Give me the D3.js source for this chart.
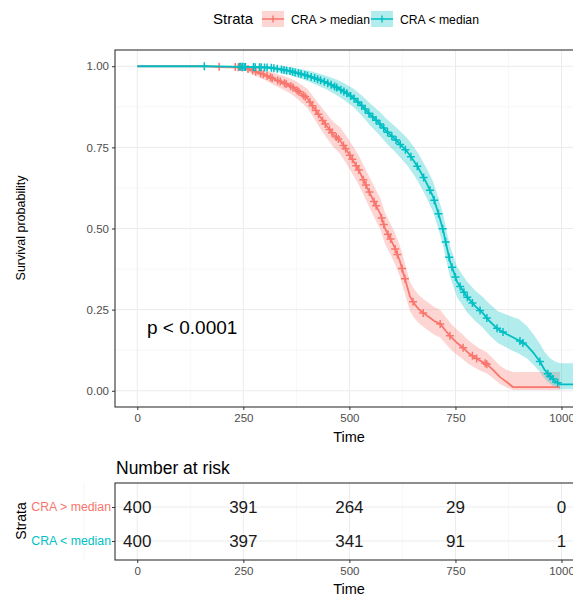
<!DOCTYPE html>
<html>
<head>
<meta charset="utf-8">
<script src="https://cdn.jsdelivr.net/npm/d3@7"></script>
<style>
  body { margin: 0; background: #fff; }
  svg { font-family: "Liberation Sans", Arial, sans-serif; }
</style>
</head>
<body>
<svg width="573" height="596"></svg>
<script>
// ---- data ----
var strata = ["CRA > median", "CRA < median"];
var timeTicks = [0, 250, 500, 750, 1000];
var survTicks = [0, 0.25, 0.5, 0.75, 1];
var survLabels = ["0.00", "0.25", "0.50", "0.75", "1.00"];

var redTime  = [0, 150, 200, 243, 266, 285, 297, 312, 325, 342, 360, 372, 384, 400, 415, 431, 447, 462, 478, 494, 509, 522, 535, 549, 561, 573, 584, 596, 607, 619, 631, 643, 652, 663, 674, 690, 700, 714, 727, 740, 754, 766, 779, 791, 805, 824, 838, 855, 870, 886, 996];
var redSurv  = [1, 1, .998, .997, .99, .98, .975, .967, .959, .95, .94, .93, .918, .902, .875, .844, .815, .79, .771, .74, .709, .68, .645, .607, .575, .545, .50, .47, .44, .40, .345, .29, .27, .252, .24, .225, .215, .206, .185, .165, .147, .135, .118, .107, .095, .082, .065, .042, .028, .011, .011];
var redLower = [1, 1, .994, .991, .98, .967, .96, .95, .94, .929, .917, .905, .891, .873, .843, .809, .778, .751, .73, .697, .665, .635, .599, .56, .527, .497, .452, .422, .392, .352, .298, .245, .226, .209, .197, .182, .173, .164, .145, .126, .11, .099, .084, .075, .064, .053, .039, .021, .011, .002, .002];
var redUpper = [1, 1, 1, 1, .999, .993, .99, .984, .978, .971, .963, .955, .945, .931, .907, .879, .852, .829, .812, .783, .753, .725, .691, .654, .623, .593, .548, .518, .488, .448, .392, .335, .314, .296, .283, .268, .258, .249, .227, .206, .188, .175, .157, .145, .132, .118, .1, .077, .065, .058, .058];
var redCensor = [193, 231, 238, 247, 261, 272, 279, 291, 297, 306, 314, 318, 331, 337, 347, 351, 362, 367, 377, 381, 392, 396, 407, 413, 421, 427, 437, 443, 453, 459, 469, 474, 486, 491, 501, 507, 516, 522, 533, 539, 547, 558, 563, 576, 581, 591, 597, 608, 613, 624, 631, 650, 674, 714, 737, 768, 790, 800, 820, 824];

var tealTime  = [0, 160, 250, 313, 340, 360, 390, 415, 445, 471, 490, 509, 530, 549, 570, 589, 612, 636, 650, 662, 680, 697, 709, 721, 730, 737, 754, 777, 797, 814, 830, 850, 870, 900, 918, 935, 949, 960, 973, 985, 996, 1050];
var tealSurv  = [1, 1, .998, .996, .99, .985, .975, .965, .95, .934, .92, .903, .878, .851, .825, .798, .77, .737, .712, .688, .645, .599, .55, .495, .44, .40, .335, .29, .26, .24, .215, .19, .175, .155, .14, .115, .09, .065, .045, .03, .02, .02];
var tealLower = [1, 1, .994, .99, .98, .973, .96, .947, .929, .91, .894, .875, .847, .817, .789, .76, .73, .695, .669, .644, .6, .552, .502, .447, .392, .352, .288, .243, .214, .195, .171, .147, .133, .114, .1, .079, .058, .038, .022, .011, .005, .005];
var tealUpper = [1, 1, 1, 1, .999, .997, .99, .983, .971, .958, .946, .931, .909, .885, .861, .836, .81, .779, .755, .732, .69, .646, .598, .543, .488, .448, .382, .337, .308, .29, .268, .245, .235, .22, .2, .172, .145, .12, .1, .09, .085, .085];
var tealCensor = [158, 241, 244, 248, 252, 255, 274, 278, 288, 292, 300, 306, 316, 322, 330, 340, 346, 352, 360, 366, 372, 380, 386, 395, 401, 410, 418, 425, 432, 441, 449, 457, 465, 470, 480, 487, 494, 503, 511, 520, 529, 537, 546, 555, 563, 572, 581, 590, 600, 610, 620, 632, 645, 660, 675, 690, 700, 710, 720, 727, 735, 742, 750, 761, 770, 778, 790, 808, 824, 848, 862, 902, 909, 949, 968, 973, 980, 991];

var riskTimes = [0, 250, 500, 750, 1000];
var riskHigh = [400, 391, 264, 29, 0];
var riskLow  = [400, 397, 341, 91, 1];

var colors = ["#F8766D", "#00BFC4"];

// ---- layout ----
var svg = d3.select("svg");
var panel = {left: 115, right: 605, top: 50, bottom: 407};
var table = {top: 483, bottom: 560};
var FONT = "Liberation Sans, Arial, sans-serif";

var x = d3.scaleLinear().domain([-52.5, 1102.5]).range([panel.left, panel.right]);
var y = d3.scaleLinear().domain([-0.05, 1.05]).range([panel.bottom, panel.top]);
var yRisk = d3.scalePoint().domain(strata).range([table.top + 24, table.bottom - 19]);

var minorT = [-125, 125, 375, 625, 875, 1125];
var minorS = [0.125, 0.375, 0.625, 0.875];

function makeSeries(t, s, lo, hi) {
  return t.map(function(d, i) { return {t: d, s: s[i], lo: lo[i], hi: hi[i]}; });
}
var groups = [
  {name: strata[0], pts: makeSeries(redTime, redSurv, redLower, redUpper), censor: redCensor, color: colors[0]},
  {name: strata[1], pts: makeSeries(tealTime, tealSurv, tealLower, tealUpper), censor: tealCensor, color: colors[1]}
];

// survival value on the drawn (linear) path at time t
function survAt(pts, t) {
  for (var i = 1; i < pts.length; i++) {
    if (pts[i].t >= t) {
      var a = pts[i - 1], b = pts[i];
      return a.s + (b.s - a.s) * (t - a.t) / (b.t - a.t);
    }
  }
  return pts[pts.length - 1].s;
}

svg.append("defs").append("clipPath").attr("id", "clipMain")
  .append("rect").attr("x", panel.left).attr("y", panel.top)
  .attr("width", panel.right - panel.left).attr("height", panel.bottom - panel.top);

// ---- main panel grid ----
var grid = svg.append("g");
grid.selectAll(".vmin").data(minorT).enter().append("line")
  .attr("x1", function(d) { return x(d); }).attr("x2", function(d) { return x(d); })
  .attr("y1", panel.top).attr("y2", panel.bottom)
  .attr("stroke", "#f2f2f2").attr("stroke-width", 0.6).attr("clip-path", "url(#clipMain)");
grid.selectAll(".hmin").data(minorS).enter().append("line")
  .attr("x1", panel.left).attr("x2", panel.right)
  .attr("y1", function(d) { return y(d); }).attr("y2", function(d) { return y(d); })
  .attr("stroke", "#f2f2f2").attr("stroke-width", 0.6);
grid.selectAll(".vmaj").data(timeTicks).enter().append("line")
  .attr("x1", function(d) { return x(d); }).attr("x2", function(d) { return x(d); })
  .attr("y1", panel.top).attr("y2", panel.bottom)
  .attr("stroke", "#ebebeb").attr("stroke-width", 1);
grid.selectAll(".hmaj").data(survTicks).enter().append("line")
  .attr("x1", panel.left).attr("x2", panel.right)
  .attr("y1", function(d) { return y(d); }).attr("y2", function(d) { return y(d); })
  .attr("stroke", "#ebebeb").attr("stroke-width", 1);

// ---- curves ----
var area = d3.area()
  .x(function(d) { return x(d.t); })
  .y0(function(d) { return y(d.lo); })
  .y1(function(d) { return y(d.hi); });
var line = d3.line()
  .x(function(d) { return x(d.t); })
  .y(function(d) { return y(d.s); });

var curves = svg.append("g").attr("clip-path", "url(#clipMain)");
groups.forEach(function(g) {
  curves.append("path").datum(g.pts).attr("d", area)
    .attr("fill", g.color).attr("fill-opacity", 0.3);
});
groups.forEach(function(g) {
  curves.append("path").datum(g.pts).attr("d", line)
    .attr("fill", "none").attr("stroke", g.color).attr("stroke-width", 1.8)
    .attr("stroke-linejoin", "round");
  curves.selectAll(null).data(g.censor).enter().append("path")
    .attr("transform", function(d) { return "translate(" + x(d) + "," + y(survAt(g.pts, d)) + ")"; })
    .attr("d", "M-4,0H4M0,-4V4")
    .attr("stroke", g.color).attr("stroke-width", 1.5);
});

// panel border
svg.append("rect").attr("x", panel.left).attr("y", panel.top)
  .attr("width", panel.right - panel.left).attr("height", panel.bottom - panel.top)
  .attr("fill", "none").attr("stroke", "#333").attr("stroke-width", 1.1);

// ---- axes ----
var yAxis = svg.append("g").attr("transform", "translate(" + panel.left + ",0)")
  .call(d3.axisLeft(y).tickValues(survTicks).tickSize(3).tickPadding(3)
    .tickFormat(function(d, i) { return survLabels[i]; }));
var xAxis = svg.append("g").attr("transform", "translate(0," + panel.bottom + ")")
  .call(d3.axisBottom(x).tickValues(timeTicks).tickSize(3).tickPadding(4).tickFormat(d3.format("d")));
[yAxis, xAxis].forEach(function(a) {
  a.select(".domain").remove();
  a.selectAll(".tick line").attr("stroke", "#333");
  a.selectAll(".tick text").attr("fill", "#4d4d4d").style("font-size", "11.5px")
    .style("font-family", FONT);
});

svg.append("text").attr("x", 349).attr("y", 442).attr("text-anchor", "middle")
  .style("font-size", "14.5px").text("Time");
svg.append("text").attr("transform", "translate(25,228) rotate(-90)")
  .attr("text-anchor", "middle").style("font-size", "12.5px").text("Survival probability");

svg.append("text").attr("x", 147).attr("y", 334)
  .style("font-size", "19px").text("p < 0.0001");

// ---- legend ----
var leg = svg.append("g");
leg.append("text").attr("x", 213).attr("y", 24).style("font-size", "15px").text("Strata");
var legX = [262, 371];
groups.forEach(function(g, i) {
  var k = leg.append("g").attr("transform", "translate(" + legX[i] + ",11)");
  k.append("rect").attr("width", 22).attr("height", 16).attr("fill", g.color).attr("fill-opacity", 0.3);
  k.append("path").attr("d", "M0,8H22M11,4.5V11.5").attr("stroke", g.color).attr("stroke-width", 1.4);
  k.append("text").attr("x", 29).attr("y", 12.5).style("font-size", "12.2px").text(g.name);
});

// ---- risk table ----
svg.append("text").attr("x", 116).attr("y", 474).style("font-size", "17.5px").text("Number at risk");

var tg = svg.append("g");
tg.selectAll(".vmin").data(minorT).enter().append("line")
  .attr("x1", function(d) { return x(d); }).attr("x2", function(d) { return x(d); })
  .attr("y1", table.top).attr("y2", table.bottom)
  .attr("stroke", "#f2f2f2").attr("stroke-width", 0.6);
tg.selectAll(".vmaj").data(timeTicks).enter().append("line")
  .attr("x1", function(d) { return x(d); }).attr("x2", function(d) { return x(d); })
  .attr("y1", table.top).attr("y2", table.bottom)
  .attr("stroke", "#ebebeb");
tg.selectAll(".hmaj").data(strata).enter().append("line")
  .attr("x1", panel.left).attr("x2", panel.right)
  .attr("y1", function(d) { return yRisk(d); }).attr("y2", function(d) { return yRisk(d); })
  .attr("stroke", "#ebebeb");

var riskRows = [riskHigh, riskLow];
riskRows.forEach(function(row, i) {
  tg.selectAll(null).data(row).enter().append("text")
    .attr("x", function(d, j) { return x(riskTimes[j]); })
    .attr("y", yRisk(strata[i]))
    .attr("dy", "0.36em").attr("text-anchor", "middle")
    .style("font-size", "17px").attr("fill", "#1a1a1a")
    .text(function(d) { return d; });
});

svg.append("rect").attr("x", panel.left).attr("y", table.top)
  .attr("width", panel.right - panel.left).attr("height", table.bottom - table.top)
  .attr("fill", "none").attr("stroke", "#333").attr("stroke-width", 1.1);

var yRiskAxis = svg.append("g").attr("transform", "translate(" + panel.left + ",0)")
  .call(d3.axisLeft(yRisk).tickSize(3).tickPadding(1));
yRiskAxis.select(".domain").remove();
yRiskAxis.selectAll(".tick line").attr("stroke", "#333");
yRiskAxis.selectAll(".tick text")
  .attr("fill", function(d, i) { return colors[i]; })
  .style("font-size", "12.3px").style("font-family", FONT);

var xRiskAxis = svg.append("g").attr("transform", "translate(0," + table.bottom + ")")
  .call(d3.axisBottom(x).tickValues(timeTicks).tickSize(3).tickPadding(4).tickFormat(d3.format("d")));
xRiskAxis.select(".domain").remove();
xRiskAxis.selectAll(".tick line").attr("stroke", "#333");
xRiskAxis.selectAll(".tick text").attr("fill", "#4d4d4d").style("font-size", "11.5px")
  .style("font-family", FONT);

svg.append("text").attr("x", 349).attr("y", 594).attr("text-anchor", "middle")
  .style("font-size", "14.5px").text("Time");
svg.append("text").attr("transform", "translate(26,521) rotate(-90)")
  .attr("text-anchor", "middle").style("font-size", "14px").text("Strata");
</script>
</body>
</html>
